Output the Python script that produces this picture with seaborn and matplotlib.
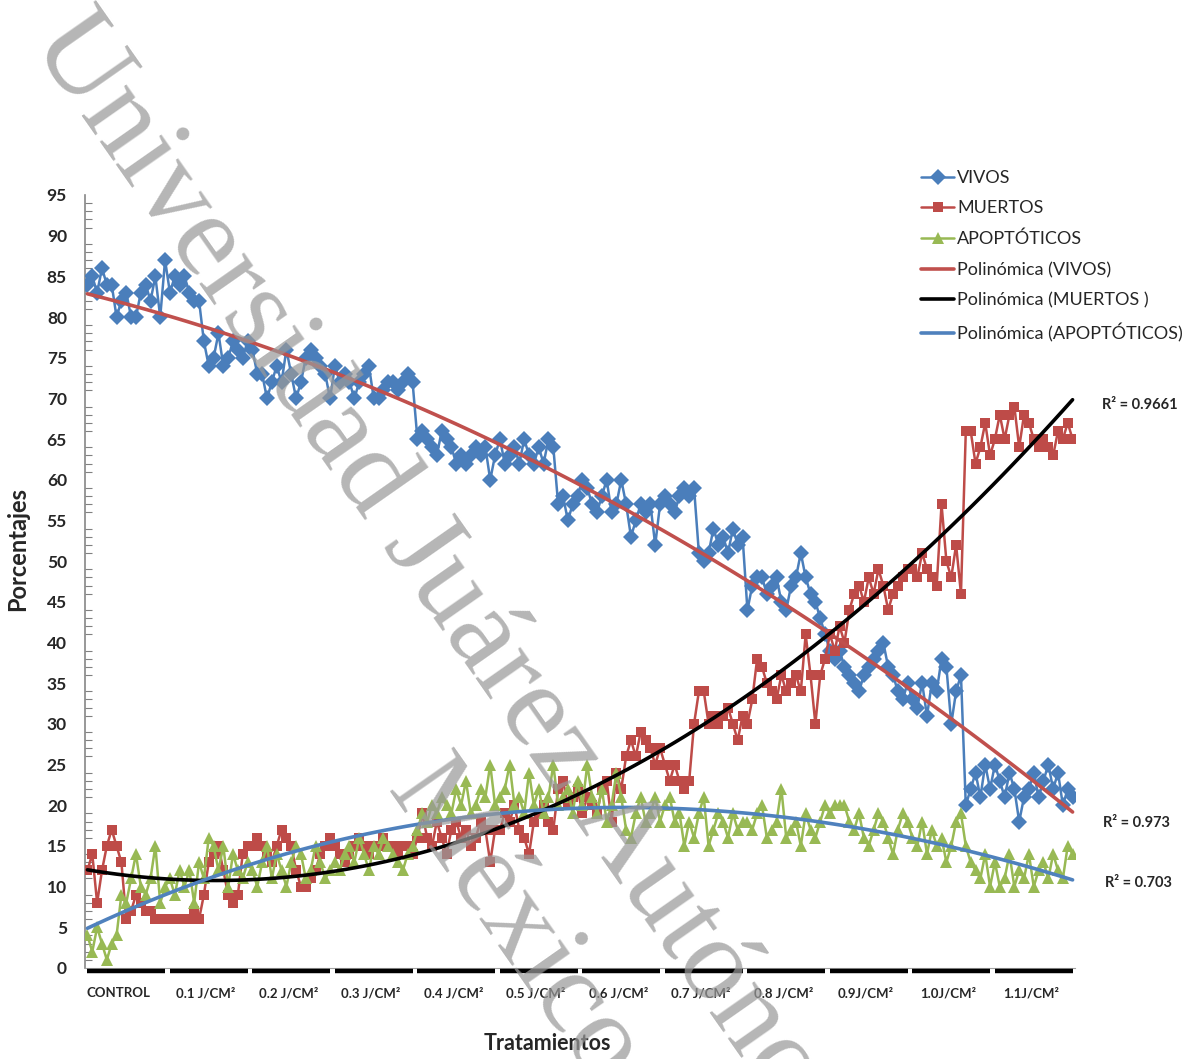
import numpy as np
import pandas as pd
import matplotlib
matplotlib.use("Agg")
import matplotlib.pyplot as plt
import seaborn as sns
from matplotlib.lines import Line2D
from matplotlib.ticker import MultipleLocator

# ---------------- data ----------------
groups = ["CONTROL", "0.1 J/CM²", "0.2 J/CM²", "0.3 J/CM²", "0.4 J/CM²", "0.5 J/CM²",
          "0.6 J/CM²", "0.7 J/CM²", "0.8 J/CM²", "0.9J/CM²", "1.0J/CM²", "1.1J/CM²"]
n_per_group = 17

vivos = [
    84, 85, 83, 86, 84, 84, 80, 82, 83, 80, 80, 83, 84, 82, 85, 80, 87,
    83, 85, 84, 85, 83, 82, 82, 77, 74, 75, 78, 74, 75, 77, 76, 75, 77,
    76, 73, 73, 70, 72, 74, 72, 76, 73, 70, 72, 75, 76, 75, 74, 73, 70,
    74, 72, 73, 72, 70, 72, 73, 74, 70, 70, 71, 72, 72, 71, 72, 73, 72,
    65, 66, 65, 64, 63, 66, 65, 64, 62, 63, 62, 63, 64, 63, 64, 60, 63,
    65, 62, 63, 64, 62, 65, 63, 62, 64, 62, 65, 64, 57, 58, 55, 57, 58,
    60, 59, 57, 56, 58, 60, 56, 57, 60, 57, 53, 55, 57, 56, 57, 52, 57,
    58, 57, 56, 58, 59, 58, 59, 51, 50, 51, 54, 52, 53, 51, 54, 52, 53,
    44, 47, 48, 48, 46, 47, 48, 45, 44, 47, 48, 51, 48, 46, 45, 43, 41,
    39, 38, 39, 37, 36, 35, 34, 36, 37, 38, 39, 40, 37, 36, 34, 33, 35,
    33, 32, 35, 31, 35, 34, 38, 37, 30, 34, 36, 20, 22, 24, 21, 25, 22,
    25, 23, 21, 24, 22, 18, 21, 22, 24, 21, 23, 25, 22, 24, 20, 22, 21,
]

muertos = [
    12, 14, 8, 12, 15, 17, 15, 13, 6, 7, 9, 8, 7, 7, 6, 6, 6,
    6, 6, 6, 6, 6, 7, 6, 9, 13, 14, 15, 12, 9, 8, 9, 14, 15,
    15, 16, 15, 14, 13, 15, 17, 16, 15, 12, 10, 10, 11, 12, 14, 15, 16,
    15, 14, 13, 14, 15, 16, 15, 14, 15, 15, 16, 15, 15, 14, 15, 15, 14,
    16, 19, 16, 15, 18, 16, 14, 17, 18, 16, 17, 15, 16, 18, 17, 13, 17,
    17, 19, 18, 20, 17, 16, 14, 18, 19, 20, 18, 17, 22, 23, 20, 21, 22,
    19, 21, 20, 19, 22, 23, 18, 24, 22, 26, 28, 26, 29, 28, 27, 25, 27,
    25, 23, 25, 23, 22, 23, 30, 34, 34, 30, 31, 30, 31, 32, 30, 28, 31,
    30, 33, 38, 37, 35, 34, 33, 36, 34, 35, 36, 34, 41, 36, 30, 36, 38,
    41, 39, 42, 40, 44, 46, 47, 45, 48, 46, 49, 47, 44, 46, 47, 48, 49,
    49, 48, 51, 49, 48, 47, 57, 50, 48, 52, 46, 66, 66, 62, 64, 67, 63,
    65, 68, 65, 68, 69, 64, 68, 67, 65, 64, 65, 64, 63, 66, 65, 67, 65,
]

apoptoticos = [
    4, 2, 5, 3, 1, 3, 4, 9, 8, 11, 14, 10, 9, 11, 15, 8, 10,
    11, 9, 12, 10, 12, 8, 13, 11, 16, 15, 12, 15, 10, 14, 12, 11, 13,
    12, 10, 13, 15, 11, 14, 12, 10, 13, 15, 14, 11, 12, 15, 13, 11, 12,
    13, 12, 14, 15, 13, 16, 14, 12, 15, 14, 16, 15, 14, 13, 12, 14, 15,
    17, 19, 18, 20, 19, 21, 20, 19, 22, 20, 23, 19, 20, 22, 21, 25, 20,
    21, 22, 25, 20, 21, 19, 24, 20, 22, 19, 21, 25, 20, 21, 22, 19, 23,
    20, 25, 21, 19, 22, 18, 20, 24, 21, 17, 16, 19, 21, 18, 19, 21, 18,
    20, 21, 18, 19, 15, 18, 16, 19, 21, 15, 17, 19, 18, 16, 19, 17, 18,
    18, 17, 19, 20, 16, 17, 18, 22, 16, 17, 18, 15, 19, 17, 16, 18, 20,
    19, 20, 20, 20, 18, 17, 19, 16, 15, 17, 19, 18, 16, 14, 17, 19, 18,
    16, 15, 18, 14, 17, 15, 16, 13, 15, 18, 19, 15, 13, 12, 11, 14, 10,
    13, 10, 11, 14, 10, 12, 11, 14, 10, 12, 13, 11, 14, 12, 11, 15, 14,
]

series_names = ["VIVOS", "MUERTOS", "APOPTÓTICOS"]
trend_names = ["Polinómica (VIVOS)", "Polinómica (MUERTOS )", "Polinómica (APOPTÓTICOS)"]
r2_labels = ["R² = 0.9661", "R² = 0.973", "R² = 0.703"]
watermark_lines = ["Universidad Juárez Autónoma", "México"]

# ---------------- style ----------------
BLUE = "#4A7EBB"
RED = "#BE4B48"
GREEN = "#98B954"
TREND_RED = "#C0504D"
TREND_BLUE = "#4F81BD"

sns.set_style("white")
plt.rcParams["font.family"] = ["Lato", "DejaVu Sans"]

W, H = 1193, 1059
fig = plt.figure(figsize=(W / 100, H / 100), dpi=100)
ax = fig.add_axes([85 / W, 1 - 968 / H, 990 / W, (968 - 195) / H])

idx = np.arange(len(vivos))
df = pd.DataFrame({"idx": idx, "VIVOS": vivos, "MUERTOS": muertos, "APOP": apoptoticos})

MS_D, MS_S, MS_T = 8, 7.5, 8

sns.lineplot(data=df, x="idx", y="VIVOS", ax=ax, color=BLUE, lw=1.8, marker="D",
             markersize=MS_D, markeredgewidth=0, zorder=3)
sns.lineplot(data=df, x="idx", y="MUERTOS", ax=ax, color=RED, lw=1.8, marker="s",
             markersize=MS_S, markeredgewidth=0, zorder=3)
sns.lineplot(data=df, x="idx", y="APOP", ax=ax, color=GREEN, lw=1.8, marker="^",
             markersize=MS_T, markeredgewidth=0, zorder=3)

# polynomial trend lines
sns.regplot(data=df, x="idx", y="VIVOS", order=2, scatter=False, ci=None, ax=ax,
            color=TREND_RED, line_kws=dict(lw=2.6, zorder=5))
sns.regplot(data=df, x="idx", y="MUERTOS", order=2, scatter=False, ci=None, ax=ax,
            color="black", line_kws=dict(lw=2.6, zorder=5))
sns.regplot(data=df, x="idx", y="APOP", order=3, scatter=False, ci=None, ax=ax,
            color=TREND_BLUE, line_kws=dict(lw=2.6, zorder=5))

ax.set_xlim(-0.5, len(vivos) - 0.5)
ax.set_ylim(0, 95)
ax.set_xlabel("")
ax.set_ylabel("")

# y axis
ax.yaxis.set_major_locator(MultipleLocator(5))
ax.yaxis.set_minor_locator(MultipleLocator(1))
ax.tick_params(axis="y", which="major", direction="out", length=7, width=1, color="#808080",
               labelsize=12.5, pad=6)
ax.tick_params(axis="y", which="minor", direction="in", length=5, width=0.8, color="#808080", left=True)
for lab in ax.get_yticklabels():
    lab.set_fontweight("bold")

# x axis: group labels
centers = [k * n_per_group + (n_per_group - 1) / 2 - 0.6 for k in range(len(groups))]
centers[0] -= 1.0
ax.set_xticks(centers)
ax.set_xticklabels(groups, fontsize=9.5, fontweight="bold")
ax.tick_params(axis="x", which="both", length=0, pad=14)

for s in ["top", "right"]:
    ax.spines[s].set_visible(False)
ax.spines["left"].set_color("#868686")
ax.spines["bottom"].set_color("#A0A0A0")
ax.spines["left"].set_linewidth(1.2)
ax.spines["bottom"].set_linewidth(0.8)

# thick group segments along the category axis
tr = ax.get_xaxis_transform()
for k in range(len(groups)):
    x0 = k * n_per_group
    x1 = (k + 1) * n_per_group - 1
    ax.plot([x0, x1], [-0.004, -0.004], transform=tr, color="black", lw=3.2,
            solid_capstyle="butt", clip_on=False, zorder=6)

# axis titles
fig.text(547 / W, 1 - 1043 / H, "Tratamientos", ha="center", va="center",
         fontsize=15.5, fontweight="bold")
fig.text(18 / W, 1 - 549 / H, "Porcentajes", ha="center", va="center", rotation=90,
         fontsize=17, fontweight="bold")

# legend
handles = [
    Line2D([], [], color=BLUE, lw=1.8, marker="D", markersize=MS_D, markeredgewidth=0),
    Line2D([], [], color=RED, lw=1.8, marker="s", markersize=MS_S, markeredgewidth=0),
    Line2D([], [], color=GREEN, lw=1.8, marker="^", markersize=MS_T, markeredgewidth=0),
    Line2D([], [], color=TREND_RED, lw=2.6),
    Line2D([], [], color="black", lw=2.6),
    Line2D([], [], color=TREND_BLUE, lw=2.6),
]
fig.legend(handles, series_names + trend_names, loc="upper left",
           bbox_to_anchor=(921 / W, 1 - 170 / H), frameon=False, fontsize=13,
           handlelength=1.85, handletextpad=0.15, labelspacing=0.8,
           borderaxespad=0, borderpad=0)

# R² annotations
fig.text(1102 / W, 1 - 405 / H, r2_labels[0], ha="left", va="center",
         fontsize=10.5, fontweight="bold")
fig.text(1103 / W, 1 - 823 / H, r2_labels[1], ha="left", va="center",
         fontsize=10.5, fontweight="bold")
fig.text(1105 / W, 1 - 883 / H, r2_labels[2], ha="left", va="center",
         fontsize=10.5, fontweight="bold")

# watermark
fig.text(30 / W, 1 - 42 / H, watermark_lines[0], rotation=-55,
         rotation_mode="anchor", ha="left", va="baseline", fontsize=86,
         family="Liberation Serif", color="#999999", alpha=0.72, zorder=10)
fig.text(385 / W, 1 - 790 / H, watermark_lines[1], rotation=-55,
         rotation_mode="anchor", ha="left", va="baseline", fontsize=86,
         family="Liberation Serif", color="#999999", alpha=0.72, zorder=10)

fig.savefig("out.png", dpi=100)
